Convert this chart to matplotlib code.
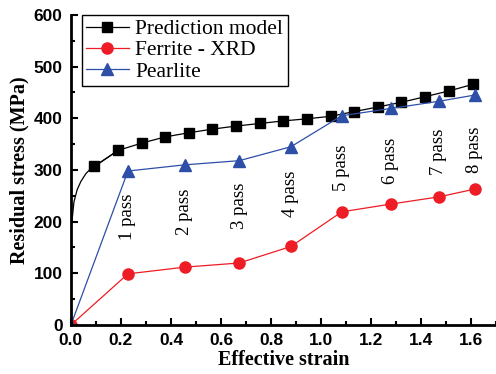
import matplotlib.pyplot as plt
import numpy as np

# prediction model: smooth start (line only) then the marked points
PRED_CURVE_X = [0.004, 0.012, 0.025, 0.040, 0.060, 0.080]
PRED_CURVE_Y = [200, 238, 262, 278, 293, 303]
PRED_X = [0.094, 0.189, 0.283, 0.377, 0.471, 0.565, 0.660, 0.755, 0.850,
          0.944, 1.040, 1.133, 1.228, 1.322, 1.418, 1.512, 1.610]
PRED_Y = [307, 338, 352, 364, 372, 379, 385, 390, 395,
          399, 404, 413, 422, 431, 442, 453, 466]

PASS_X = [0.0, 0.228, 0.456, 0.673, 0.880, 1.083, 1.279, 1.472, 1.615]
FERRITE = [0, 99, 112, 120, 152, 219, 234, 248, 263]
PEARLITE = [0, 298, 310, 318, 345, 405, 419, 433, 445]

PASS_LABELS = ['1 pass', '2 pass', '3 pass', '4 pass', '5 pass', '6 pass', '7 pass', '8 pass']
LABEL_Y = [209, 219, 230, 253, 304, 318, 335, 339]

SERIF = ['Liberation Serif', 'DejaVu Serif']
SANS = ['Liberation Sans', 'DejaVu Sans']

fig = plt.figure(figsize=(4.96, 3.74), dpi=100)
ax = fig.add_axes([0.143, 0.131, 0.857, 0.829])

ax.plot(PRED_CURVE_X + PRED_X[:2], PRED_CURVE_Y + PRED_Y[:2], color='black', lw=0.9)
ax.plot(PRED_X, PRED_Y, color='black', lw=0.9, marker='s', ms=7,
        label='Prediction model')
ax.plot(PASS_X, FERRITE, color='#ee1c25', lw=0.9, marker='o', ms=8,
        label='Ferrite - XRD')
ax.plot(PASS_X, PEARLITE, color='#2e4fa8', lw=0.9, marker='^', ms=8.5,
        label='Pearlite')

for x, y, s in zip(PASS_X[1:], LABEL_Y, PASS_LABELS):
    ax.text(x, y, s, rotation=90, ha='center', va='center',
            fontsize=13.5, family=SERIF)

ax.set_xlim(0, 1.7)
ax.set_ylim(0, 600)
ax.set_xticks(np.arange(0, 1.61, 0.2))
ax.set_xticks(np.arange(0, 1.71, 0.1), minor=True)
ax.set_yticks(np.arange(0, 601, 100))
ax.set_yticks(np.arange(0, 601, 50), minor=True)
ax.tick_params(which='both', direction='in', width=1.5)
ax.tick_params(which='major', length=5)
ax.tick_params(which='minor', length=3)
ax.tick_params(axis='x', pad=6)
ax.tick_params(axis='y', pad=6)
for lab in ax.get_xticklabels() + ax.get_yticklabels():
    lab.set_family(SANS)
    lab.set_fontweight('bold')
    lab.set_fontsize(12.5)

for s in ['top', 'right']:
    ax.spines[s].set_visible(False)
for s in ['left', 'bottom']:
    ax.spines[s].set_linewidth(2)

ax.set_xlabel('Effective strain', family=SERIF, fontweight='bold', fontsize=14.5, labelpad=1)
ax.set_ylabel('Residual stress (MPa)', family=SERIF, fontweight='bold', fontsize=14.5, labelpad=3)

leg = ax.legend(loc='upper left', bbox_to_anchor=(0.025, 1.0), fancybox=False,
                edgecolor='black', framealpha=1, borderaxespad=0,
                prop={'family': SERIF, 'size': 15.5}, labelspacing=0.05,
                handlelength=2.0, handletextpad=0.3, borderpad=0.2)
leg.get_frame().set_linewidth(1)

fig.savefig('out.png', dpi=100)
